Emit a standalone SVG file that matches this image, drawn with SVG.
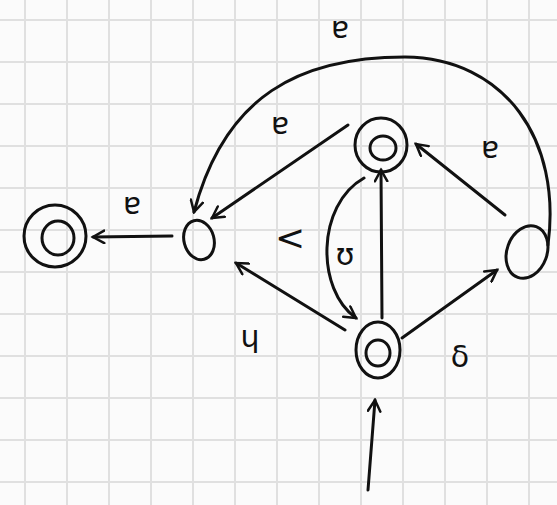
<svg xmlns="http://www.w3.org/2000/svg" width="557" height="505" viewBox="0 0 557 505">
<defs>
<style>
.grid line{stroke:#e0e0e0;stroke-width:2}
.st{fill:none;stroke:#111;stroke-width:3;stroke-linecap:round;stroke-linejoin:round}
.e{fill:none;stroke:#111;stroke-width:3;stroke-linecap:round;marker-end:url(#ah)}
.lbl{font-family:"DejaVu Sans",sans-serif;font-size:30px;fill:#111;text-anchor:middle}
</style>
<marker id="ah" viewBox="0 0 12 12" refX="10" refY="6" markerWidth="5" markerHeight="5" orient="auto" markerUnits="strokeWidth">
<path d="M1 1 L10 6 L1 11" fill="none" stroke="#111" stroke-width="2" stroke-linecap="round"/>
</marker>
</defs>
<rect width="557" height="505" fill="#fbfbfb"/>
<g class="grid">
<line x1="25" y1="0" x2="25" y2="505"/><line x1="67" y1="0" x2="67" y2="505"/><line x1="109" y1="0" x2="109" y2="505"/><line x1="151" y1="0" x2="151" y2="505"/><line x1="193" y1="0" x2="193" y2="505"/><line x1="235" y1="0" x2="235" y2="505"/><line x1="277" y1="0" x2="277" y2="505"/><line x1="319" y1="0" x2="319" y2="505"/><line x1="361" y1="0" x2="361" y2="505"/><line x1="403" y1="0" x2="403" y2="505"/><line x1="445" y1="0" x2="445" y2="505"/><line x1="487" y1="0" x2="487" y2="505"/><line x1="529" y1="0" x2="529" y2="505"/>
<line x1="0" y1="20" x2="557" y2="20"/><line x1="0" y1="62" x2="557" y2="62"/><line x1="0" y1="104" x2="557" y2="104"/><line x1="0" y1="146" x2="557" y2="146"/><line x1="0" y1="188" x2="557" y2="188"/><line x1="0" y1="230" x2="557" y2="230"/><line x1="0" y1="272" x2="557" y2="272"/><line x1="0" y1="314" x2="557" y2="314"/><line x1="0" y1="356" x2="557" y2="356"/><line x1="0" y1="398" x2="557" y2="398"/><line x1="0" y1="440" x2="557" y2="440"/><line x1="0" y1="482" x2="557" y2="482"/>
</g>
<g id="connectors">
<path class="e" d="M548 245 C 562 140, 505 58, 405 57 C 300 57, 225 95, 194 212"/>
<path class="e" d="M348 125 L 212 218"/>
<path class="e" d="M172 236 L 93 237"/>
<path class="e" d="M505 215 L 416 144"/>
<path class="e" d="M345 330 L 236 263"/>
<path class="e" d="M402 338 L 497 270"/>
<path class="e" d="M364 178 C 316 205, 316 290, 356 318"/>
<path class="e" d="M382 318 L 381 170"/>
<path class="e" d="M368 490 L 375 400"/>
</g>
<g id="labels">
<text class="lbl" x="340" y="38">ɐ</text>
<text class="lbl" x="280" y="134">ɐ</text>
<text class="lbl" x="132" y="214">ɐ</text>
<text class="lbl" x="490" y="158">ɐ</text>
<text class="lbl" x="250" y="347">ɥ</text>
<text class="lbl" x="460" y="367">δ</text>
<text class="lbl" x="345" y="265">ʊ</text>
<text class="lbl" x="290" y="250" style="font-size:36px">&lt;</text>
</g>
<g id="node-F"><ellipse class="st" cx="55" cy="236" rx="31" ry="31"/><ellipse class="st" cx="58" cy="238" rx="16" ry="17"/></g>
<g id="node-A"><ellipse class="st" cx="199" cy="240" rx="15" ry="20" transform="rotate(-15 199 240)"/></g>
<g id="node-B"><ellipse class="st" cx="381" cy="145" rx="26" ry="27"/><ellipse class="st" cx="383" cy="148" rx="13" ry="12"/></g>
<g id="node-C"><ellipse class="st" cx="378" cy="350" rx="22" ry="28"/><ellipse class="st" cx="378" cy="353" rx="12" ry="13"/></g>
<g id="node-D"><ellipse class="st" cx="527" cy="252" rx="20" ry="27" transform="rotate(20 527 252)"/></g>
</svg>
